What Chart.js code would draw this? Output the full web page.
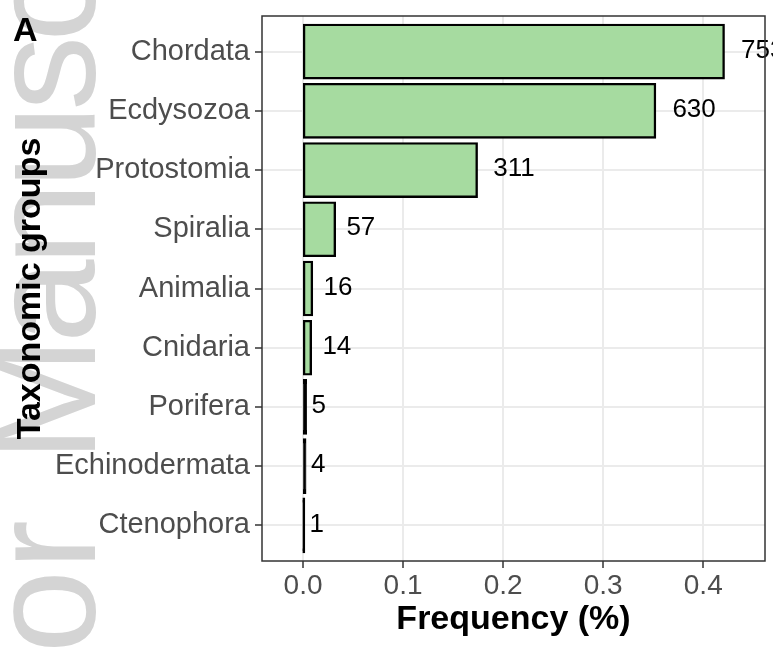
<!DOCTYPE html>
<html><head><meta charset="utf-8">
<script src="https://cdn.jsdelivr.net/npm/chart.js@4/dist/chart.umd.min.js"></script>
<style>html,body{margin:0;padding:0;background:#fff;} canvas{display:block;}</style>
</head><body>
<canvas id="c" width="773" height="652"></canvas>
<script>
const categories = ["Chordata","Ecdysozoa","Protostomia","Spiralia","Animalia","Cnidaria","Porifera","Echinodermata","Ctenophora"];
const frequencies = [0.4204,0.3518,0.1736,0.0318,0.0089,0.0078,0.0028,0.0022,0.0006];
const countLabels = ["753","630","311","57","16","14","5","4","1"];
const xTicks = [0,0.1,0.2,0.3,0.4];
const xTickLabels = ["0.0","0.1","0.2","0.3","0.4"];
const xTitle = "Frequency (%)";
const yTitle = "Taxonomic groups";
const panelTag = "A";
const watermarkBefore = "Author";
const watermarkAfter = "Manuscript";

const FONT = "'Liberation Sans', Arial, Helvetica, sans-serif";
const BAR_FILL = '#a6dba0';
const BAR_BORDER = 2.4;
Chart.defaults.font.family = FONT;

const decor = {
  id: 'decor',
  beforeDraw(chart) {
    const ctx = chart.ctx;
    ctx.save();
    ctx.fillStyle = '#fff';
    ctx.fillRect(0, 0, chart.width, chart.height);
    ctx.translate(95, 462);
    ctx.rotate(-Math.PI / 2);
    ctx.fillStyle = '#d4d4d4';
    ctx.font = "150px " + FONT;
    ctx.textBaseline = 'alphabetic';
    ctx.textAlign = 'right';
    ctx.fillText(watermarkBefore, -58, 0);
    ctx.textAlign = 'left';
    try { ctx.letterSpacing = '-6px'; } catch (e) {}
    ctx.fillText(watermarkAfter, 0, 0);
    ctx.restore();
  },
  afterDatasetsDraw(chart) {
    const ctx = chart.ctx;
    const a = chart.chartArea;
    const xs = chart.scales.x;
    const meta = chart.getDatasetMeta(0);
    ctx.save();
    ctx.font = "26px " + FONT;
    ctx.fillStyle = '#000';
    ctx.textAlign = 'left';
    ctx.textBaseline = 'middle';
    meta.data.forEach((el, i) => {
      const w = ctx.measureText(countLabels[i]).width;
      ctx.fillText(countLabels[i], xs.getPixelForValue(frequencies[i]) + 0.4 * w, el.y - 1);
    });
    ctx.strokeStyle = '#333';
    ctx.lineWidth = 1.5;
    ctx.strokeRect(a.left, a.top, a.right - a.left, a.bottom - a.top);
    ctx.restore();
  },
  afterDraw(chart) {
    const ctx = chart.ctx;
    ctx.save();
    ctx.font = "bold 34px " + FONT;
    ctx.fillStyle = '#000';
    ctx.textBaseline = 'alphabetic';
    ctx.fillText(panelTag, 13, 41);
    ctx.restore();
  }
};

new Chart(document.getElementById('c').getContext('2d'), {
  type: 'bar',
  data: {
    datasets: [{
      data: frequencies.map((v, i) => ({ x: v, y: i })),
      backgroundColor: c => {
        const xs = c.chart.scales.x;
        const v = frequencies[c.dataIndex];
        if (!xs || v === undefined) return BAR_FILL;
        const px = Math.abs(xs.getPixelForValue(v) - xs.getPixelForValue(0));
        return px < BAR_BORDER + 1 ? '#000' : BAR_FILL;
      },
      borderColor: '#000',
      borderWidth: BAR_BORDER,
      inflateAmount: BAR_BORDER / 2,
      borderSkipped: false,
      barPercentage: 0.9,
      categoryPercentage: 1
    }]
  },
  options: {
    indexAxis: 'y',
    responsive: false,
    animation: false,
    devicePixelRatio: 1,
    layout: { padding: { left: 0, right: 8, top: 16, bottom: 0 } },
    plugins: { legend: { display: false }, tooltip: { enabled: false } },
    scales: {
      x: {
        type: 'linear', min: -0.041, max: 0.4617,
        afterBuildTicks: s => { s.ticks = xTicks.map(v => ({ value: v })); },
        afterFit: s => { s.height = 91; s.paddingLeft = 0; s.paddingRight = 0; },
        ticks: { callback: (v, i) => xTickLabels[i], color: '#4d4d4d', font: { size: 28 }, padding: 1, maxRotation: 0, autoSkip: false },
        grid: { color: '#ebebeb', lineWidth: 2, tickColor: '#333', tickLength: 7, tickWidth: 1.5 },
        border: { display: false },
        title: { display: true, text: xTitle, color: '#000', font: { size: 34, weight: 'bold' }, padding: { top: 0, bottom: 12 } }
      },
      y: {
        type: 'linear', reverse: true, min: -0.6, max: 8.6, offset: false,
        afterBuildTicks: s => { s.ticks = categories.map((c, i) => ({ value: i })); },
        afterFit: s => { s.width = 262; s.paddingTop = 0; s.paddingBottom = 0; },
        ticks: { callback: v => categories[v], color: '#4d4d4d', font: { size: 29 }, padding: 5, autoSkip: false },
        grid: { offset: false, color: '#ebebeb', lineWidth: 2, tickColor: '#333', tickLength: 7, tickWidth: 1.5 },
        border: { display: false },
        title: { display: true, text: yTitle, color: '#000', font: { size: 34, weight: 'bold' }, padding: { top: 10, bottom: 0 } }
      }
    }
  },
  plugins: [decor]
});
</script>
</body></html>
